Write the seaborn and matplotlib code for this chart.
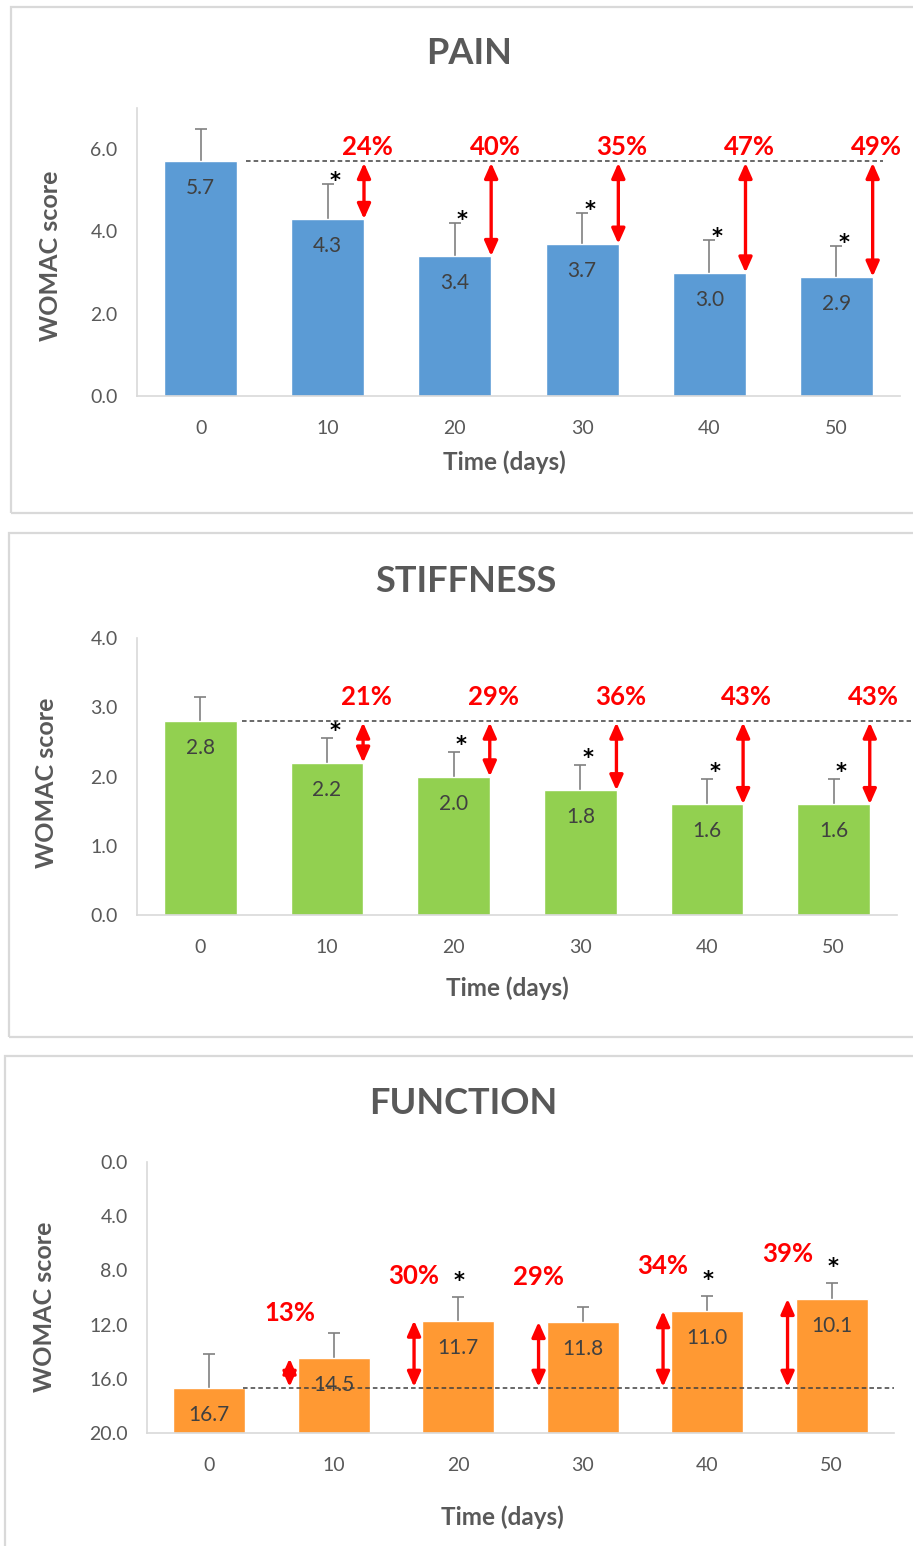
import numpy as np
import pandas as pd
import matplotlib
matplotlib.use("Agg")
import matplotlib.pyplot as plt
import seaborn as sns
from matplotlib.patches import FancyArrowPatch, Rectangle

# ---------------- data ----------------
days = ["0", "10", "20", "30", "40", "50"]

pain_mean = [5.7, 4.3, 3.4, 3.7, 3.0, 2.9]
pain_err = [0.8, 0.85, 0.8, 0.75, 0.8, 0.75]
pain_pct = ["", "24%", "40%", "35%", "47%", "49%"]
pain_sig = [False, True, True, True, True, True]

stiff_mean = [2.8, 2.2, 2.0, 1.8, 1.6, 1.6]
stiff_err = [0.35, 0.36, 0.36, 0.36, 0.37, 0.37]
stiff_pct = ["", "21%", "29%", "36%", "43%", "43%"]
stiff_sig = [False, True, True, True, True, True]

func_mean = [16.7, 14.5, 11.7, 11.8, 11.0, 10.1]
func_err = [2.5, 1.85, 1.75, 1.1, 1.1, 1.2]
func_pct = ["", "13%", "30%", "29%", "34%", "39%"]
func_sig = [False, False, True, False, True, True]

titles = ["PAIN", "STIFFNESS", "FUNCTION"]
pain_ticks = [0, 2, 4, 6]
stiff_ticks = [0, 1, 2, 3, 4]
func_ticks = [0, 4, 8, 12, 16, 20]

# ---------------- style ----------------
sns.set_style("white")
plt.rcParams["font.family"] = ["Lato", "DejaVu Sans"]

W, H = 913, 1546
fig = plt.figure(figsize=(W / 100, H / 100), dpi=100)
PX = 72 / 100  # points per pixel

GREY_TXT = "#595959"
VAL_TXT = "#404040"
RED = "#FF0000"


def fx(x):
    return x / W


def fy(y):
    return 1 - y / H


# panel frames
for (x0, y0, y1) in [(10.5, 7, 513), (9, 533, 1037), (5, 1056, 1560)]:
    fig.add_artist(Rectangle((fx(x0), fy(y1)), 1.2, (y1 - y0) / H,
                             transform=fig.transFigure, fill=False,
                             edgecolor="#D9D9D9", lw=1.6, clip_on=False))


def panel(px_left, px_right, px_top, px_bottom, means, errs, pcts, sigs,
          color, ylim, yticks, invert, dash_x, pct_mode, pct_val,
          star_dx, star_off, arrow_dx):
    ax = fig.add_axes([fx(px_left), fy(px_bottom), (px_right - px_left) / W,
                       (px_bottom - px_top) / H])
    df = pd.DataFrame({"day": days, "score": means})
    sns.barplot(data=df, x="day", y="score", order=days, color=color,
                saturation=1, width=0.575, errorbar=None, ax=ax, zorder=2)
    base = ylim[0] if invert else 0
    if invert:
        for p, v in zip(ax.patches, means):
            p.set_y(base)
            p.set_height(v - base)
    x = np.arange(len(days))
    zeros = np.zeros(len(days))
    yerr = [np.array(errs), zeros] if invert else [zeros, np.array(errs)]
    eb = ax.errorbar(x, means, yerr=yerr, fmt="none", ecolor="#808080",
                     elinewidth=1.2, capsize=4.6, capthick=1.2, zorder=1)
    for cl in eb[1]:
        if np.allclose(cl.get_ydata(), means):
            cl.set_visible(False)
    ax.set_ylim(*ylim)
    ax.set_xlim(-0.5, len(days) - 0.5)
    ax.set_yticks(yticks)
    ax.set_yticklabels([f"{t:.1f}" for t in yticks])
    ax.tick_params(axis="both", length=0, colors=GREY_TXT, labelsize=14)
    ax.tick_params(axis="x", pad=17)
    ax.tick_params(axis="y", pad=14)
    ax.set_xlabel("")
    ax.set_ylabel("")
    for s in ["top", "right"]:
        ax.spines[s].set_visible(False)
    for s in ["left", "bottom"]:
        ax.spines[s].set_color("#D9D9D9")
        ax.spines[s].set_linewidth(1.2)
    ax.patch.set_alpha(0)

    ref = means[0]
    ax.plot(dash_x, [ref, ref], color="#404040", lw=1.1, ls=(0, (3, 2)),
            clip_on=False, zorder=4)

    # value labels
    for i, v in enumerate(means):
        ax.annotate(f"{v:.1f}", (i, v), xytext=(0, -27 * PX),
                    textcoords="offset points", ha="center", va="center",
                    color=VAL_TXT, fontsize=15, zorder=5)
    # stars
    for i, (v, e, s) in enumerate(zip(means, errs, sigs)):
        if s:
            ytop = v + e if not invert else v - e
            ax.annotate("*", (i + star_dx, ytop), xytext=(0, star_off * PX),
                        textcoords="offset points", ha="center",
                        va="baseline", fontsize=15, color="black",
                        fontweight="bold", family="DejaVu Sans")
    # arrows and percentages
    for i in range(1, len(days)):
        xa = i + arrow_dx
        arr = FancyArrowPatch((xa, ref), (xa, means[i]),
                              arrowstyle="<|-|>,head_length=9,head_width=4",
                              mutation_scale=1, color=RED, lw=2.4,
                              shrinkA=1, shrinkB=0, zorder=6)
        ax.add_patch(arr)
        if pct_mode == "fixed":
            ax.text(xa + 0.03, pct_val, pcts[i], ha="center", va="center",
                    color=RED, fontweight="bold", fontsize=18.5, zorder=7)
        else:
            ax.annotate(pcts[i], (xa, means[i]), xytext=(0, pct_val * PX),
                        textcoords="offset points", ha="center", va="center",
                        color=RED, fontweight="bold", fontsize=18.5, zorder=7)
    return ax


panel(137, 900, 108, 396, pain_mean, pain_err, pain_pct, pain_sig,
      "#5B9BD5", (0, 7), pain_ticks, False, [0.36, 5.37], "fixed", 6.05,
      0.06, -3, 0.285)
panel(137, 897, 638, 915, stiff_mean, stiff_err, stiff_pct, stiff_sig,
      "#92D050", (0, 4), stiff_ticks, False, [0.33, 5.61], "fixed", 3.15,
      0.06, 1, 0.285)
panel(147, 894, 1162, 1433, func_mean, func_err, func_pct, func_sig,
      "#FF9933", (20, 0), func_ticks, True, [0.27, 5.5], "offset", 45,
      0.01, 10, -0.355)

# titles & axis labels
for t, (x, y) in zip(titles, [(469, 53), (466, 582), (463, 1103)]):
    fig.text(fx(x), fy(y), t, ha="center", va="center", fontsize=26,
             fontweight="bold", color=GREY_TXT)
for (x, y) in [(504, 462), (507, 988), (502, 1517)]:
    fig.text(fx(x), fy(y), "Time (days)", ha="center", va="center",
             fontsize=17.5, fontweight="bold", color=GREY_TXT)
for (x, y) in [(50, 256), (47, 783), (44, 1307)]:
    fig.text(fx(x), fy(y), "WOMAC score", ha="center", va="center",
             fontsize=18, fontweight="bold", color=GREY_TXT, rotation=90)

fig.savefig("out.png", dpi=100)
